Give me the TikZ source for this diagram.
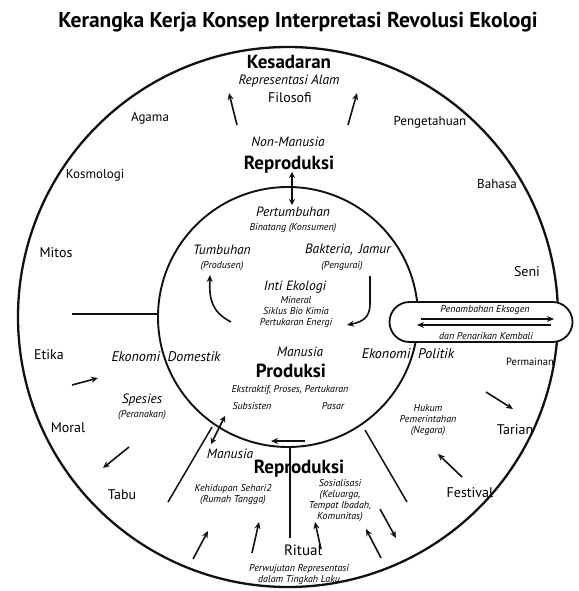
\documentclass[tikz,border=0pt]{standalone}
\usepackage{fontspec}
\setmainfont{PT Sans}
\usetikzlibrary{arrows.meta, positioning, calc}
\definecolor{ekink}{HTML}{111111}
\tikzset{
  ring/.style={draw=ekink, line width=2.3pt},
  capsule/.style={draw=ekink, fill=white, line width=1.8pt, rounded corners=20pt,
    minimum width=183pt, minimum height=40pt, inner sep=0pt},
  ttl/.style={font=\fontsize{21.5}{23}\selectfont\bfseries, inner sep=0pt},
  head/.style={font=\fontsize{19}{21}\selectfont\bfseries, inner sep=0pt},
  lbl/.style={font=\fontsize{14}{15}\selectfont, inner sep=0pt},
  lblsm/.style={font=\fontsize{13}{14}\selectfont, inner sep=0pt},
  ilbl/.style={font=\fontsize{13.5}{15}\selectfont\itshape, inner sep=0pt},
  sml/.style={font=\fontsize{10}{11}\selectfont\itshape, inner sep=0pt},
  push/.style={-{Stealth[length=7pt, width=6pt]}, draw=ekink, line width=1.6pt},
  both/.style={{Stealth[length=6pt, width=6pt]}-{Stealth[length=6pt, width=6pt]},
    draw=ekink, line width=1.6pt},
  bar/.style={draw=ekink, line width=1.8pt},
}
\begin{document}
\begin{tikzpicture}[x=1pt, y=-1pt]
  \useasboundingbox (0,0) rectangle (578,591);
  \node[ttl] (title) at (298,22) {Kerangka Kerja Konsep Interpretasi Revolusi Ekologi};
  \coordinate (ctr) at (288,317);
  \draw[ring] (ctr) circle[radius=270pt];
  \draw[ring, line width=1.9pt] (ctr) circle[radius=130pt];

  % outer ring: culture
  \node[head] (kes) at (289,62) {Kesadaran};
  \node[ilbl] (rep) at (289,81) {Representasi Alam};
  \node[lbl] (fil) at (290,98) {Filosofi};
  \node[lblsm] (agm) at (150,118) {Agama};
  \node[lblsm] (pen) at (430,122) {Pengetahuan};
  \node[lblsm] (kos) at (95,175) {Kosmologi};
  \node[lblsm] (bhs) at (497,184) {Bahasa};
  \node[lbl] (mit) at (56,253) {Mitos};
  \node[lbl] (sen) at (527,272) {Seni};
  \node[lbl] (eti) at (49,355) {Etika};
  \node[lbl] (mor) at (68,428) {Moral};
  \node[lbl] (tab) at (122,495) {Tabu};
  \node[lbl] (tar) at (515,430) {Tarian};
  \node[lbl] (fes) at (470,493) {Festival};
  \node[font=\fontsize{10.5}{11}\selectfont, inner sep=0pt] (mai) at (530,362) {Permainan};

  % non-human reproduction and ecological core
  \node[ilbl] (nonm) at (288,142) {Non-Manusia};
  \node[head] (repn) at (289,165) {Reproduksi};
  \node[ilbl] (tumb) at (293,212) {Pertumbuhan};
  \node[sml] (bin) at (293,228) {Binatang (Konsumen)};
  \node[ilbl] (tbh) at (222,250) {Tumbuhan};
  \node[sml] (prod) at (222,266) {(Produsen)};
  \node[ilbl] (bak) at (348,250) {Bakteria,\, Jamur};
  \node[sml] (peng) at (342,266) {(Pengurai)};
  \node[ilbl] (inti) at (295,287) {Inti Ekologi};
  \node[sml, align=center] (siklus) at (296,312) {Mineral\\Siklus Bio Kimia\\Pertukaran Energi};

  % economy
  \node[font=\fontsize{14}{15}\selectfont\itshape, inner sep=0pt] (edom) at (166,357) {Ekonomi\ \ Domestik};
  \node[font=\fontsize{14}{15}\selectfont\itshape, inner sep=0pt] (epol) at (408,354) {Ekonomi\ \ Politik};
  \node[ilbl] (manp) at (300,352) {Manusia};
  \node[head] (prdk) at (291,371) {Produksi};
  \node[sml] (eks) at (290,390) {Ekstraktif, Proses, Pertukaran};
  \node[sml] (sub) at (252,406) {Subsisten};
  \node[sml] (psr) at (333,406) {Pasar};
  \node[ilbl] (spe) at (142,400) {Spesies};
  \node[sml] (pera) at (142,415) {(Peranakan)};
  \node[sml, align=center] (huk) at (428,420) {Hukum\\Pemerintahan\\(Negara)};

  \node[capsule] (cap) at (481,322) {};
  \node[sml] (tamb) at (485,310) {Penambahan Eksogen};
  \node[sml] (tarik) at (486,336) {dan Penarikan Kembali};

  % human reproduction
  \node[ilbl] (manr) at (230,454) {Manusia};
  \node[head] (repm) at (299,469) {Reproduksi};
  \node[sml, align=center] (keh) at (233,495) {Kehidupan Sehari2\\(Rumah Tangga)};
  \node[sml, align=center] (sos) at (340,501) {Sosialisasi\\(Keluarga,\\Tempat Ibadah,\\Komunitas)};
  \node[font=\fontsize{15}{16}\selectfont, inner sep=0pt] (rit) at (303,550) {Ritual};
  \node[sml, align=center] (wuj) at (299,575) {Perwujutan Representasi\\dalam Tingkah Laku};

  % arrow ends
  \coordinate (k1s) at (237,125); \coordinate (k1e) at (229,93);
  \coordinate (k2s) at (348,125); \coordinate (k2e) at (357,93);
  \coordinate (d1a) at (292,172); \coordinate (d1b) at (292,205);
  \coordinate (c1s) at (231,322); \coordinate (c1e) at (210,275);
  \coordinate (c2s) at (370,276); \coordinate (c2e) at (347,325);
  \coordinate (d2a) at (225,416); \coordinate (d2b) at (211,444);
  \coordinate (hz1) at (72,314);  \coordinate (hz2) at (158,314);
  \coordinate (bt1) at (305,441); \coordinate (bt2) at (271,441);
  \coordinate (tt1) at (290,447); \coordinate (tt2) at (290,538);
  \coordinate (sl1) at (212,427); \coordinate (sl2) at (168,502);
  \coordinate (sr1) at (365,430); \coordinate (sr2) at (407,502);
  \coordinate (e1s) at (72,385);  \coordinate (e1e) at (98,378);
  \coordinate (m1s) at (129,447); \coordinate (m1e) at (103,468);
  \coordinate (h1s) at (486,392); \coordinate (h1e) at (513,409);
  \coordinate (f1s) at (462,477); \coordinate (f1e) at (438,454);
  \coordinate (r1s) at (193,559); \coordinate (r1e) at (208,531);
  \coordinate (r2s) at (252,553); \coordinate (r2e) at (259,522);
  \coordinate (r3s) at (321,549); \coordinate (r3e) at (315,522);
  \coordinate (r4s) at (381,558); \coordinate (r4e) at (366,529);
  \coordinate (r5s) at (380,509); \coordinate (r5e) at (396,538);
  \coordinate (x1s) at (421,319); \coordinate (x1e) at (554,319);
  \coordinate (x2s) at (551,325); \coordinate (x2e) at (417,325);

  \draw[push] (k1s) -- (k1e);
  \draw[push] (k2s) -- (k2e);
  \draw[both] (d1a) -- (d1b);
  \draw[push] (c1s) .. controls (212,312) and (209,300) .. (c1e);
  \draw[push] (c2s) -- (370,304) .. controls (370,318) and (362,322) .. (c2e);
  \draw[both] (d2a) -- (d2b);
  \draw[bar] (hz1) -- (hz2);
  \draw[push, line width=2pt] (bt1) -- (bt2);
  \draw[bar] (tt1) -- (tt2);
  \draw[bar, line width=1.5pt] (sl1) -- (sl2);
  \draw[bar, line width=1.5pt] (sr1) -- (sr2);
  \foreach \a in {e1, m1, h1, f1, r1, r2, r3, r4, r5}
    \draw[push] (\a s) -- (\a e);
  \draw[push, line width=1.3pt] (x1s) -- (x1e);
  \draw[push, line width=1.3pt] (x2s) -- (x2e);
\end{tikzpicture}
\end{document}
